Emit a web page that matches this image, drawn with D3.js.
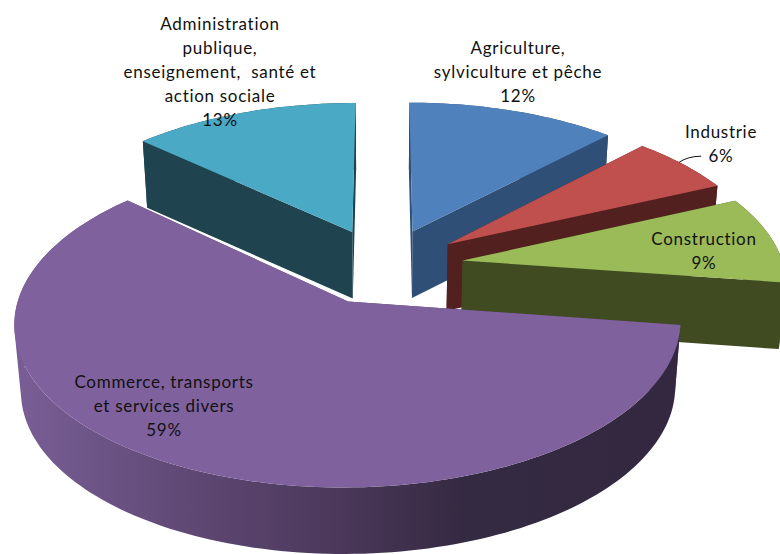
<!DOCTYPE html>
<html>
<head>
<meta charset="utf-8">
<script src="https://cdn.jsdelivr.net/npm/d3@7/dist/d3.min.js"></script>
<style>
html,body{margin:0;padding:0;background:#fff}
svg{display:block}
text{font-family:Lato,"Open Sans",sans-serif;font-size:17px;fill:#111;letter-spacing:.7px}
</style>
</head>
<body>
<svg id="chart" width="780" height="554"></svg>
<script>
// Share of employment by branch
const categories = ["Agriculture", "Industrie", "Construction", "Commerce", "Administration"];
const values = [12, 6, 9, 59, 13];
const labelLines = [
  ["Agriculture,", "sylviculture et pêche", "12%"],
  ["Industrie", "6%"],
  ["Construction", "9%"],
  ["Commerce, transports", "et services divers", "59%"],
  ["Administration", "publique,", "enseignement,  santé et", "action sociale", "13%"]
];
const topColors = ["#4f81bd", "#c0504d", "#9bbb59", "#7f619e", "#4aa9c5"];
const wallColors = ["#2f4f76", "#532020", "#404b22", "#5a4570", "#1f444f"];
const labelAnchors = [[518, 48], [721, 132], [704, 239], [164, 382], [220, 24]];
const drawOrder = [0, 4, 1, 2, 3];

// Tilted-disc projection parameters
const cx = 383.5, cy = 266, fx = 321, fy = 153, persp = 0.125;
const explode = 0.25, depth = 66.5, lean = 0.018, lineStep = 24;

const project = (x, y) => {
  const d = 1 + persp * y;
  return [cx + fx * x / d, cy - fy * y / d];
};
const drop = ([x, y]) => [cx + (x - cx) * (1 - lean), y + depth];

const arcs = d3.pie().sort(null)(values);

const svg = d3.select("#chart");
const defs = svg.append("defs");
const grad = defs.append("linearGradient").attr("id", "rimShade")
  .attr("gradientUnits", "userSpaceOnUse")
  .attr("x1", 10).attr("x2", 680).attr("y1", 0).attr("y2", 0);
[[0, "#7a5f97"], [0.27, "#5f4874"], [0.5, "#4a3759"], [0.68, "#342a41"], [1, "#332840"]]
  .forEach(([o, c]) => grad.append("stop").attr("offset", o).attr("stop-color", c));

const poly = d3.line().curve(d3.curveLinear);

// One quad per rim segment, all wound the same way, so the swept wall is a clean union
const sweptWall = rim => d3.pairs(rim).map(([p, q]) => {
  const quad = [p, q, drop(q), drop(p)];
  return poly(d3.polygonArea(quad) < 0 ? quad.reverse() : quad) + "Z";
}).join("");

arcs.forEach(a => {
  a.mid = (a.startAngle + a.endAngle) / 2;
  a.ox = explode * Math.sin(a.mid);
  a.oy = explode * Math.cos(a.mid);
  a.pt = (ang, r) => project(a.ox + r * Math.sin(ang), a.oy + r * Math.cos(ang));
  const n = Math.max(8, Math.ceil((a.endAngle - a.startAngle) * 40));
  a.rim = d3.range(n + 1).map(i => a.pt(a.startAngle + (a.endAngle - a.startAngle) * i / n, 1));
  a.apex = a.pt(0, 0);
});

const slices = svg.selectAll("g.slice")
  .data(drawOrder.map(i => arcs[i]))
  .join("g").attr("class", "slice");

// Radial walls
slices.selectAll("path.wall")
  .data(d => [d.rim[0], d.rim[d.rim.length - 1]].map(p => ({p, d})))
  .join("path").attr("class", "wall")
  .attr("d", ({p, d}) => poly([d.apex, p, drop(p), drop(d.apex)]) + "Z")
  .attr("fill", ({d}) => wallColors[d.index]);

// Outer curved wall
slices.append("path")
  .attr("d", d => sweptWall(d.rim))
  .attr("fill", d => d.index === 3 ? "url(#rimShade)" : wallColors[d.index]);

// Top face
slices.append("path")
  .attr("d", d => poly([d.apex, ...d.rim]) + "Z")
  .attr("fill", d => topColors[d.index]);

// Labels
const labels = svg.selectAll("text.label")
  .data(labelLines)
  .join("text").attr("class", "label")
  .attr("text-anchor", "middle")
  .attr("aria-label", (d, i) => categories[i]);
labels.selectAll("tspan")
  .data((d, i) => d.map((t, j) => ({t, j, i})))
  .join("tspan")
  .attr("x", d => labelAnchors[d.i][0])
  .attr("y", d => labelAnchors[d.i][1] + d.j * lineStep + 6)
  .style("white-space", "pre")
  .text(d => d.t);

// Leader line for the Industrie label
const rimPoint = arcs[1].pt(arcs[1].mid - 0.02, 1);
const lead = d3.path();
lead.moveTo(rimPoint[0], rimPoint[1]);
lead.quadraticCurveTo(rimPoint[0] + 9, rimPoint[1] - 6, rimPoint[0] + 22, rimPoint[1] - 6);
svg.append("path").attr("d", lead.toString())
  .attr("fill", "none").attr("stroke", "#111").attr("stroke-width", 1);
</script>
</body>
</html>
